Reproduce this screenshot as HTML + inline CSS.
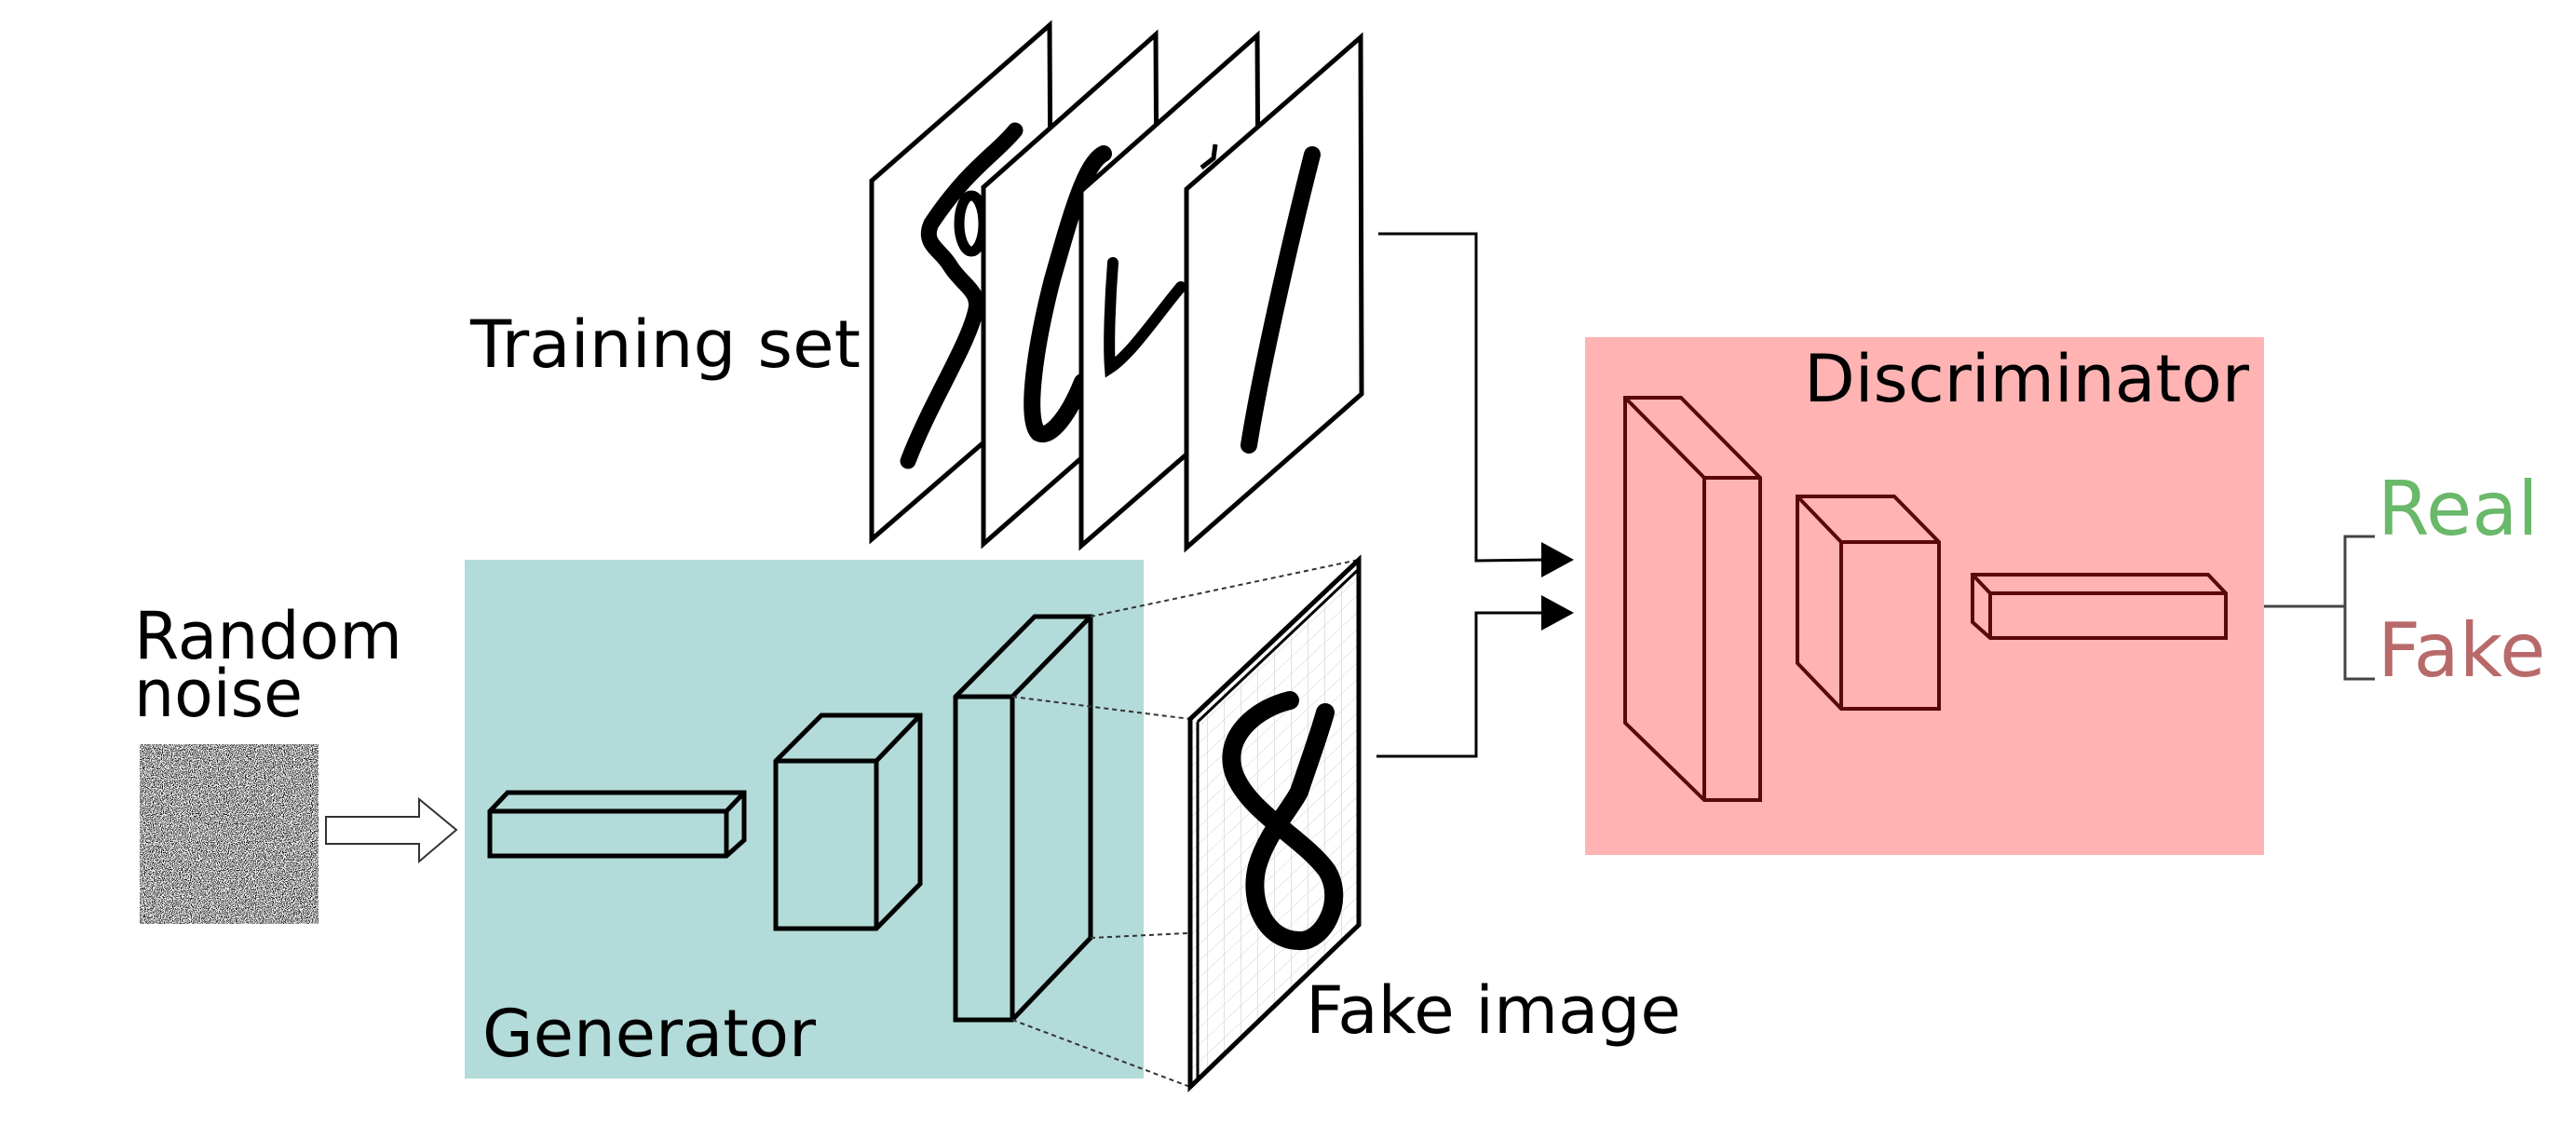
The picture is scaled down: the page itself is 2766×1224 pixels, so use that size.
<!DOCTYPE html>
<html><head><meta charset="utf-8"><style>
html,body{margin:0;padding:0;background:#fff;}
svg{display:block}
text{font-family:"DejaVu Sans","Liberation Sans",sans-serif;font-size:70px;}
</style></head><body>
<svg width="2766" height="1224" viewBox="0 0 2766 1224" xmlns="http://www.w3.org/2000/svg">
<defs>
<filter id="nz" x="0" y="0" width="100%" height="100%">
<feTurbulence type="fractalNoise" baseFrequency="1.1" numOctaves="1" seed="3"/>
<feColorMatrix type="matrix" values="0 0 0 0 0  0 0 0 0 0  0 0 0 0 0  -9 0 0 0 4.7"/>
</filter>
<pattern id="grid" width="18" height="18" patternUnits="userSpaceOnUse" patternTransform="skewY(-43)">
<path d="M0 0V18M0 0H18" stroke="#d6d6d6" stroke-width="1.5" fill="none"/>
</pattern>
</defs>

<!-- Training set pages -->
<g stroke="#000" stroke-width="5" fill="#fff" stroke-linejoin="miter">
<polygon points="936,194 1127,27 1129,412 936,579"/>
<path d="M1090,140 C1070,165 1040,180 1000,240 C990,262 1010,268 1020,285 C1032,305 1052,312 1048,332 C1040,370 1000,430 975,495" fill="none" stroke-width="17" stroke-linecap="round"/>
<ellipse cx="1043" cy="240" rx="13" ry="30" fill="none" stroke-width="11"/>
<polygon points="1056,201 1241,37 1243,420 1056,584"/>
<path d="M1185,165 C1165,175 1150,230 1130,300 C1112,370 1100,450 1115,465 C1130,472 1150,440 1162,410" fill="none" stroke-width="18" stroke-linecap="round"/>
<polygon points="1161,205 1350,38 1352,420 1161,586"/>
<path d="M1195,282 C1192,320 1190,370 1192,395 C1215,380 1245,335 1268,308" fill="none" stroke-width="12" stroke-linecap="round"/>
<path d="M1305,155 L1303,170 L1290,180" fill="none" stroke-width="5"/>
<polygon points="1274,203 1461,40 1462,423 1274,588"/>
<path d="M1409,166 C1390,240 1355,390 1341,478" fill="none" stroke-width="18" stroke-linecap="round"/>
</g>
<text x="505" y="394" textLength="419" lengthAdjust="spacingAndGlyphs">Training set</text>

<!-- Generator -->
<rect x="499" y="601" width="729" height="557" fill="#b3dbd9"/>
<text x="518" y="1134" textLength="358" lengthAdjust="spacingAndGlyphs">Generator</text>
<g stroke="#000" stroke-width="5" fill="#b3dbd9" stroke-linejoin="miter">
<polygon points="526,871 545,851 799,851 799,902 780,919 526,919"/>
<path d="M526,871 H780 L799,851 M780,871 V919" fill="none"/>
<polygon points="833,817 882,768 988,768 988,949 941,997 833,997"/>
<path d="M833,817 H941 L988,768 M941,817 V997" fill="none"/>
<polygon points="1026,748 1111,662 1171,662 1171,1007 1087,1095 1026,1095"/>
<path d="M1026,748 H1087 L1171,662 M1087,748 V1095" fill="none"/>
</g>

<!-- Random noise -->
<text x="144" y="707" textLength="288" lengthAdjust="spacingAndGlyphs">Random</text>
<text x="144" y="769" textLength="181" lengthAdjust="spacingAndGlyphs">noise</text>
<rect x="150" y="799" width="192" height="193" fill="#fff"/>
<rect x="150" y="799" width="192" height="193" filter="url(#nz)"/>
<polygon points="350,877 450,877 450,858 490,891 450,925 450,906 350,906" fill="#fff" stroke="#333" stroke-width="2"/>

<!-- dotted projection lines -->
<g stroke="#333" stroke-width="2" stroke-dasharray="5,4" fill="none">
<line x1="1171" y1="662" x2="1459" y2="601"/>
<line x1="1087" y1="748" x2="1278" y2="772"/>
<line x1="1171" y1="1007" x2="1459" y2="993"/>
<line x1="1087" y1="1095" x2="1278" y2="1167"/>
</g>

<!-- Fake image -->
<polygon points="1278,772 1459,601 1459,993 1278,1167" fill="#fff"/>
<polygon points="1278,772 1459,601 1459,993 1278,1167" fill="url(#grid)"/>
<path d="M1385,752 C1350,760 1312,790 1325,830 C1340,872 1400,900 1425,935 C1445,968 1420,1012 1395,1010 C1360,1010 1340,970 1350,930 C1360,895 1385,870 1395,850 C1405,820 1416,790 1423,765" fill="none" stroke="#000" stroke-width="20" stroke-linecap="round"/>
<g fill="none" stroke="#000">
<polygon points="1278,772 1459,601 1459,993 1278,1167" stroke-width="5"/>
<path d="M1286,775 L1459,611 M1286,775 V1160" stroke-width="3"/>
</g>
<text x="1402" y="1109" textLength="403" lengthAdjust="spacingAndGlyphs">Fake image</text>

<!-- connectors -->
<g stroke="#000" stroke-width="3" fill="none">
<polyline points="1480,251 1585,251 1585,602 1660,601"/>
<polyline points="1478,812 1585,812 1585,658 1660,658"/>
</g>
<polygon points="1655,582 1690,601 1655,620" fill="#000"/>
<polygon points="1655,639 1690,658 1655,677" fill="#000"/>

<!-- Discriminator -->
<rect x="1702" y="362" width="729" height="556" fill="#ffb3b3"/>
<text x="1937" y="431" textLength="478" lengthAdjust="spacingAndGlyphs">Discriminator</text>
<g stroke="#5a0808" stroke-width="4" fill="none" stroke-linejoin="miter">
<polygon points="1745,427 1805,427 1890,513 1890,859 1830,859 1745,776"/>
<path d="M1745,427 L1830,513 H1890 M1830,513 V859"/>
<polygon points="1930,533 2034,533 2082,582 2082,761 1977,761 1930,712"/>
<path d="M1930,533 L1977,582 H2082 M1977,582 V761"/>
<polygon points="2118,617 2371,617 2390,637 2390,685 2137,685 2118,668"/>
<path d="M2118,617 L2137,637 H2390 M2137,637 V685"/>
</g>

<!-- output -->
<g stroke="#444" stroke-width="3" fill="none">
<line x1="2431" y1="651" x2="2518" y2="651"/>
<polyline points="2550,576 2518,576 2518,729 2550,729"/>
</g>
<text x="2553" y="574" fill="#6ab86a" style="font-size:80px">Real</text>
<text x="2553" y="726" fill="#b86a6a" style="font-size:80px">Fake</text>
</svg>
</body></html>
